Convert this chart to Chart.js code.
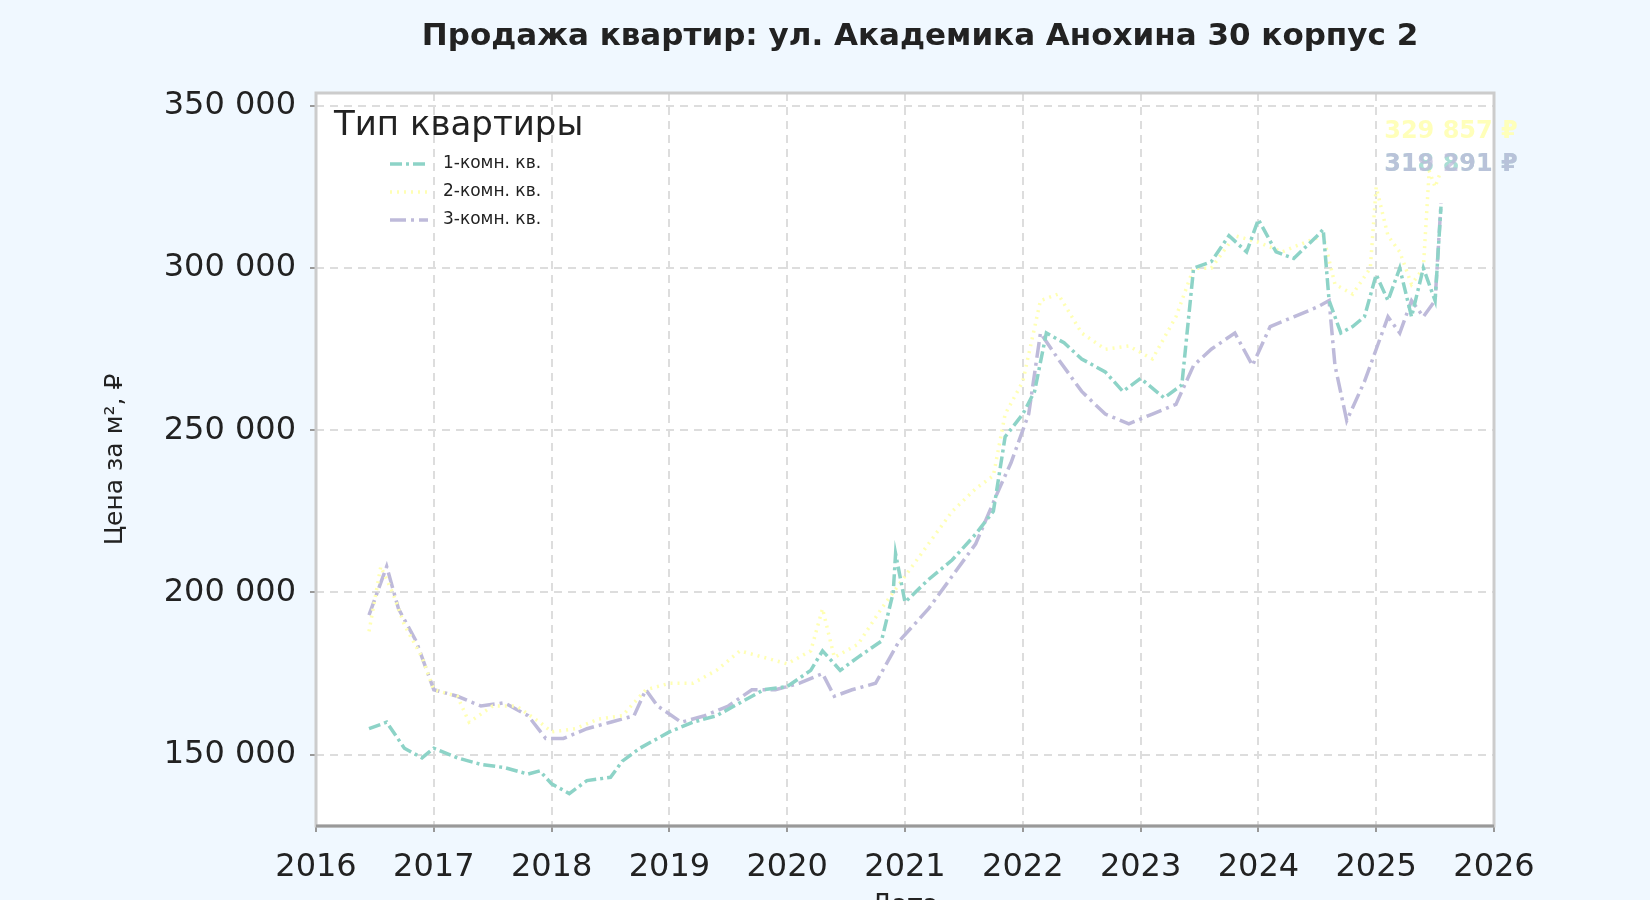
<!DOCTYPE html>
<html><head><meta charset="utf-8">
<script src="https://cdn.jsdelivr.net/npm/chart.js@4"></script>
<style>html,body{margin:0;background:#f0f8ff}#c{display:block}</style>
</head><body>
<div style="width:1650px;height:900px"><canvas id="c"></canvas></div>
<script>
// даты в долях года
var x1 = [2016.45,2016.6,2016.75,2016.9,2017.0,2017.2,2017.4,2017.6,2017.8,2017.9,2018.0,2018.15,2018.3,2018.5,2018.6,2018.75,2018.9,2019.0,2019.2,2019.4,2019.6,2019.8,2020.0,2020.2,2020.3,2020.45,2020.6,2020.8,2020.9,2020.92,2021.0,2021.2,2021.4,2021.6,2021.75,2021.85,2022.0,2022.1,2022.2,2022.35,2022.5,2022.7,2022.85,2023.0,2023.2,2023.35,2023.45,2023.6,2023.75,2023.9,2024.0,2024.15,2024.3,2024.5,2024.55,2024.6,2024.7,2024.8,2024.9,2025.0,2025.1,2025.2,2025.3,2025.4,2025.5,2025.55];
var y1 = [158,160,152,149,152,149,147,146,144,145,141,138,142,143,148,152,155,157,160,162,166,170,171,176,182,176,180,185,200,212,197,204,210,218,225,248,255,262,280,277,272,268,262,266,260,264,300,302,310,305,315,305,303,310,312,290,280,282,285,298,290,300,285,300,290,319];
var x2 = [2016.45,2016.55,2016.65,2016.75,2016.9,2017.0,2017.2,2017.3,2017.5,2017.7,2017.9,2018.0,2018.2,2018.4,2018.6,2018.8,2019.0,2019.2,2019.4,2019.6,2019.8,2020.0,2020.2,2020.3,2020.4,2020.6,2020.8,2021.0,2021.2,2021.4,2021.6,2021.75,2021.85,2022.0,2022.15,2022.3,2022.5,2022.7,2022.9,2023.1,2023.3,2023.45,2023.6,2023.8,2024.0,2024.2,2024.4,2024.55,2024.65,2024.8,2024.95,2025.0,2025.1,2025.2,2025.3,2025.4,2025.45,2025.5,2025.55];
var y2 = [188,208,200,190,180,170,168,160,165,165,160,157,158,161,162,170,172,172,176,182,180,178,182,195,180,184,195,205,215,225,232,236,255,265,290,292,280,275,276,272,285,300,300,310,308,305,308,310,295,292,300,325,310,305,295,300,330,325,330];
var x3 = [2016.45,2016.6,2016.7,2016.85,2017.0,2017.2,2017.4,2017.6,2017.8,2017.95,2018.1,2018.3,2018.5,2018.7,2018.8,2018.9,2019.1,2019.3,2019.5,2019.7,2019.9,2020.1,2020.3,2020.4,2020.55,2020.75,2020.95,2021.2,2021.4,2021.6,2021.8,2021.9,2022.05,2022.15,2022.3,2022.5,2022.7,2022.9,2023.1,2023.3,2023.45,2023.6,2023.8,2023.95,2024.1,2024.3,2024.5,2024.6,2024.65,2024.75,2024.9,2025.0,2025.1,2025.2,2025.3,2025.4,2025.5,2025.55];
var y3 = [193,208,195,185,170,168,165,166,162,155,155,158,160,162,170,165,160,162,165,170,170,172,175,168,170,172,185,195,205,215,232,240,255,280,272,262,255,252,255,258,270,275,280,270,282,285,288,290,270,253,265,275,285,280,290,285,290,320];
var seriesLabels = ['1-комн. кв.','2-комн. кв.','3-комн. кв.'];
var yTicks = [150000,200000,250000,300000,350000];
var endLabels = [['318 891 ₽',2025.55,331800],['329 857 ₽',2025.55,342000],['319 291 ₽',2025.55,331800]];

function pts(xs, ys){ return xs.map(function(x,i){ return {x:x, y:ys[i]*1000}; }); }
function fmt(v){ return String(v).replace(/\B(?=(\d{3})+(?!\d))/g,' '); }
var colors = ['#8dd3c7','#ffffb3','#bebada'];
var dashes = [[12,4,3,4],[2,5],[16,5,3,5]];
var font = "'DejaVu Sans', sans-serif";

var chart = new Chart(document.getElementById('c'), {
    type: 'line',
    data: {
        datasets: [pts(x1,y1), pts(x2,y2), pts(x3,y3)].map(function(d,i){
            return { label: seriesLabels[i], data: d, borderColor: colors[i], borderDash: dashes[i],
                     borderWidth: 3.5, pointRadius: 0, tension: 0, fill: false };
        })
    },
    options: {
        animation: false,
        responsive: true,
        maintainAspectRatio: false,
        layout: { padding: { top: 93, right: 156, left: 100, bottom: -22 } },
        plugins: { legend: { display: false }, tooltip: { enabled: false }, title: { display: false } },
        scales: {
            x: {
                type: 'linear', min: 2016, max: 2026,
                ticks: { stepSize: 1, color: '#222', font: { family: font, size: 32 }, padding: 16,
                         callback: function(v){ return String(v); } },
                grid: { color: '#dddddd', lineWidth: 2, tickLength: 6, tickColor: '#999' },
                border: { display: false, dash: [8,6] },
                title: { display: true, text: 'Дата', color: '#222', font: { family: font, size: 26 }, padding: 0 },
                afterFit: function(s){ s.height = 96; }
            },
            y: {
                min: 128000, max: 354000,
                afterBuildTicks: function(s){ s.ticks = yTicks.map(function(v){ return {value: v}; }); },
                ticks: { color: '#222', font: { family: font, size: 32 }, padding: 14,
                         callback: function(v){ return fmt(v); } },
                grid: { color: '#dddddd', lineWidth: 2, tickLength: 6, tickColor: '#999' },
                border: { display: false, dash: [8,6] },
                title: { display: true, text: 'Цена за м², ₽', color: '#222', font: { family: font, size: 25 }, padding: 0 },
                afterFit: function(s){ s.width = 216; }
            }
        }
    },
    plugins: [{
        id: 'frame',
        beforeDraw: function(chart){
            var ctx = chart.ctx, a = chart.chartArea;
            ctx.save();
            ctx.fillStyle = '#f0f8ff';
            ctx.fillRect(0, 0, chart.width, chart.height);
            ctx.fillStyle = '#ffffff';
            ctx.fillRect(a.left, a.top, a.right - a.left, a.bottom - a.top);
            ctx.restore();
        },
        afterDraw: function(chart){
            var ctx = chart.ctx, a = chart.chartArea, xs = chart.scales.x, ys = chart.scales.y;
            ctx.save();
            // рамка
            ctx.strokeStyle = '#cccccc'; ctx.lineWidth = 3;
            ctx.strokeRect(a.left, a.top, a.right - a.left, a.bottom - a.top);
            ctx.strokeStyle = '#999999';
            ctx.beginPath(); ctx.moveTo(a.left, a.bottom); ctx.lineTo(a.right, a.bottom); ctx.stroke();
            // заголовок
            ctx.fillStyle = '#222'; ctx.textAlign = 'center'; ctx.textBaseline = 'middle';
            ctx.font = "bold 31px " + font;
            ctx.fillText('Продажа квартир: ул. Академика Анохина 30 корпус 2', (a.left + a.right) / 2 + 15, 37);
            // подписи последних значений
            ctx.font = "bold 24px " + font;
            endLabels.forEach(function(l, i){
                ctx.fillStyle = colors[i];
                ctx.globalAlpha = i === 1 ? 0.9 : 0.75;
                ctx.fillText(l[0], xs.getPixelForValue(l[1]) + 10, ys.getPixelForValue(l[2]));
            });
            ctx.globalAlpha = 1;
            // легенда
            ctx.textAlign = 'left';
            ctx.fillStyle = '#222';
            ctx.font = "34px " + font;
            ctx.fillText('Тип квартиры', a.left + 18, a.top + 33);
            ctx.font = "17px " + font;
            seriesLabels.forEach(function(lab, i){
                var y = a.top + 71 + i * 28;
                ctx.strokeStyle = colors[i]; ctx.lineWidth = 3.5; ctx.setLineDash(dashes[i]);
                ctx.beginPath(); ctx.moveTo(a.left + 74, y); ctx.lineTo(a.left + 112, y); ctx.stroke();
                ctx.setLineDash([]);
                ctx.fillStyle = '#222';
                ctx.fillText(lab, a.left + 127, y);
            });
            ctx.restore();
        }
    }]
});
</script>
</body></html>
